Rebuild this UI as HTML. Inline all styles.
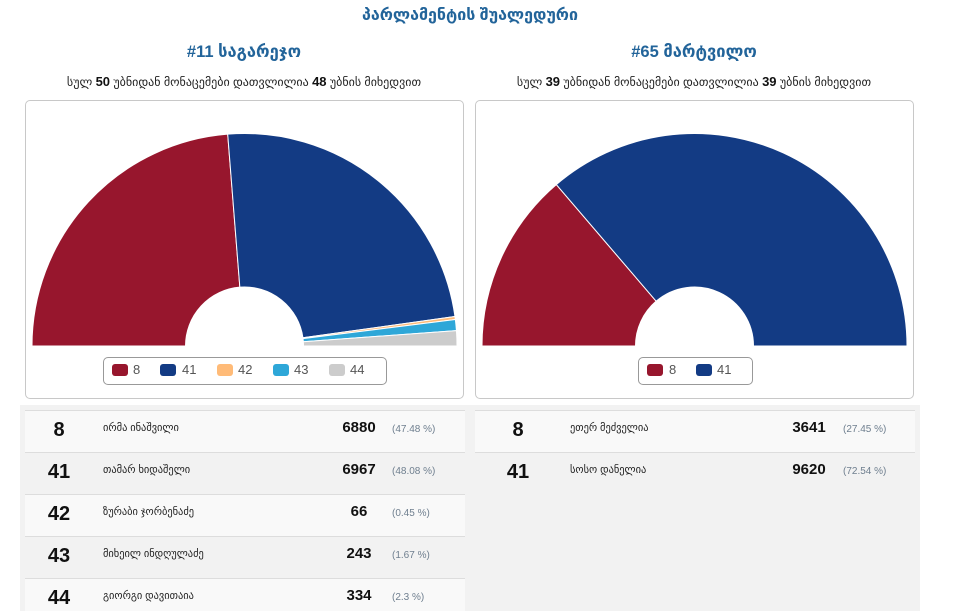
<!DOCTYPE html>
<html><head><meta charset="utf-8">
<style>
html,body{margin:0;padding:0;background:#fff;width:961px;height:611px;overflow:hidden;position:relative;font-family:"Liberation Sans","DejaVu Sans",sans-serif;}
.a{position:absolute;white-space:nowrap;}
.geo{font-family:"Liberation Sans","DejaVu Sans",sans-serif;}
.title{left:270px;width:400px;top:6px;text-align:center;color:#22649a;font-weight:bold;font-size:16px;line-height:20px;}
.sub{text-align:center;color:#22649a;font-weight:bold;font-size:16.5px;line-height:22px;}
.line{text-align:center;color:#222;font-size:12px;line-height:14px;}
.line b{font-family:"Liberation Sans",sans-serif;font-size:13px;color:#111;}
.card{position:absolute;top:100px;width:437px;height:297px;border:1px solid #c8c8c8;border-radius:5px;background:#fff;box-sizing:content-box;}
.legend{position:absolute;top:357px;height:26px;border:1px solid #999;border-radius:5px;background:#fff;}
.sym{position:absolute;width:16px;height:12px;border-radius:3px;top:364px;}
.lt{position:absolute;top:362px;font-size:13px;line-height:16px;color:#555;font-family:"Liberation Sans",sans-serif;}
.panel{position:absolute;left:20px;top:405px;width:900px;height:206px;background:#f2f2f2;}
.row{position:absolute;height:41px;border-top:1px solid #dddddd;}
.odd{background:#f9f9f9;}
.num{position:absolute;width:60px;text-align:center;font-weight:bold;font-size:20px;line-height:22px;color:#111;}
.nm{position:absolute;font-size:10.4px;line-height:14px;color:#222;}
.vt{position:absolute;width:60px;text-align:center;font-weight:bold;font-size:15px;line-height:17px;color:#111;}
.pc{position:absolute;font-size:10px;line-height:14px;color:#6f7f8f;}
</style></head><body>

<div class="a title geo">პარლამენტის შუალედური</div>

<div class="a sub geo" style="left:94px;width:300px;top:41px;">#11 საგარეჯო</div>
<div class="a sub geo" style="left:544px;width:300px;top:41px;">#65 მარტვილო</div>

<div class="a line geo" style="left:14px;width:460px;top:75px;">სულ <b>50</b> უბნიდან მონაცემები დათვლილია <b>48</b> უბნის მიხედვით</div>
<div class="a line geo" style="left:464px;width:460px;top:75px;">სულ <b>39</b> უბნიდან მონაცემები დათვლილია <b>39</b> უბნის მიხედვით</div>

<div class="card" style="left:25px;"></div>
<div class="card" style="left:475px;"></div>

<svg class="a" style="left:0;top:0;" width="961" height="400" viewBox="0 0 961 400">
  <g stroke="#ffffff" stroke-width="1" stroke-linejoin="round">
    <path fill="#97162d" d="M32,346 A212.5,212.5 0 0 1 227.70,134.16 L239.84,287.18 A59,59 0 0 0 185.5,346 Z"/>
    <path fill="#133b84" d="M227.70,134.16 A212.5,212.5 0 0 1 454.94,316.47 L302.93,337.80 A59,59 0 0 0 239.84,287.18 Z"/>
    <path fill="#ffbb78" d="M454.94,316.47 A212.5,212.5 0 0 1 455.34,319.48 L303.04,338.64 A59,59 0 0 0 302.93,337.80 Z"/>
    <path fill="#2ea7d8" d="M455.34,319.48 A212.5,212.5 0 0 1 456.44,330.63 L303.35,341.73 A59,59 0 0 0 303.04,338.64 Z"/>
    <path fill="#cccccc" d="M456.44,330.63 A212.5,212.5 0 0 1 457,346 L303.5,346 A59,59 0 0 0 303.35,341.73 Z"/>

    <path fill="#97162d" d="M482,346 A212.5,212.5 0 0 1 556.32,184.56 L656.13,301.18 A59,59 0 0 0 635.5,346 Z"/>
    <path fill="#133b84" d="M556.32,184.56 A212.5,212.5 0 0 1 907,346 L753.5,346 A59,59 0 0 0 656.13,301.18 Z"/>
  </g>
</svg>

<div class="legend" style="left:103px;width:282px;"></div>
<div class="sym" style="left:112px;background:#97162d;"></div><div class="lt" style="left:133px;">8</div>
<div class="sym" style="left:160px;background:#133b84;"></div><div class="lt" style="left:182px;">41</div>
<div class="sym" style="left:217px;background:#ffbb78;"></div><div class="lt" style="left:238px;">42</div>
<div class="sym" style="left:273px;background:#2ea7d8;"></div><div class="lt" style="left:294px;">43</div>
<div class="sym" style="left:329px;background:#cccccc;"></div><div class="lt" style="left:350px;">44</div>

<div class="legend" style="left:638px;width:113px;"></div>
<div class="sym" style="left:647px;background:#97162d;"></div><div class="lt" style="left:669px;">8</div>
<div class="sym" style="left:696px;background:#133b84;"></div><div class="lt" style="left:717px;">41</div>

<div class="panel"></div>

<!-- left table -->
<div class="row odd" style="left:25px;width:440px;top:410px;"></div>
<div class="row" style="left:25px;width:440px;top:452px;"></div>
<div class="row odd" style="left:25px;width:440px;top:494px;"></div>
<div class="row" style="left:25px;width:440px;top:536px;"></div>
<div class="row odd" style="left:25px;width:440px;top:578px;height:40px;"></div>

<div class="num" style="left:29px;top:419px;">8</div>
<div class="nm geo" style="left:103px;top:422px;">ირმა ინაშვილი</div>
<div class="vt" style="left:329px;top:419px;">6880</div>
<div class="pc" style="left:392px;top:423px;">(47.48 %)</div>

<div class="num" style="left:29px;top:461px;">41</div>
<div class="nm geo" style="left:103px;top:464px;">თამარ ხიდაშელი</div>
<div class="vt" style="left:329px;top:461px;">6967</div>
<div class="pc" style="left:392px;top:465px;">(48.08 %)</div>

<div class="num" style="left:29px;top:503px;">42</div>
<div class="nm geo" style="left:103px;top:506px;">ზურაბი ჯორბენაძე</div>
<div class="vt" style="left:329px;top:503px;">66</div>
<div class="pc" style="left:392px;top:507px;">(0.45 %)</div>

<div class="num" style="left:29px;top:545px;">43</div>
<div class="nm geo" style="left:103px;top:548px;">მიხეილ ინდღულაძე</div>
<div class="vt" style="left:329px;top:545px;">243</div>
<div class="pc" style="left:392px;top:549px;">(1.67 %)</div>

<div class="num" style="left:29px;top:587px;">44</div>
<div class="nm geo" style="left:103px;top:590px;">გიორგი დავითაია</div>
<div class="vt" style="left:329px;top:587px;">334</div>
<div class="pc" style="left:392px;top:591px;">(2.3 %)</div>

<!-- right table -->
<div class="row odd" style="left:475px;width:440px;top:410px;"></div>
<div class="row" style="left:475px;width:440px;top:452px;"></div>

<div class="num" style="left:488px;top:419px;">8</div>
<div class="nm geo" style="left:570px;top:422px;">ეთერ მეძველია</div>
<div class="vt" style="left:779px;top:419px;">3641</div>
<div class="pc" style="left:843px;top:423px;">(27.45 %)</div>

<div class="num" style="left:488px;top:461px;">41</div>
<div class="nm geo" style="left:570px;top:464px;">სოსო დანელია</div>
<div class="vt" style="left:779px;top:461px;">9620</div>
<div class="pc" style="left:843px;top:465px;">(72.54 %)</div>

</body></html>
